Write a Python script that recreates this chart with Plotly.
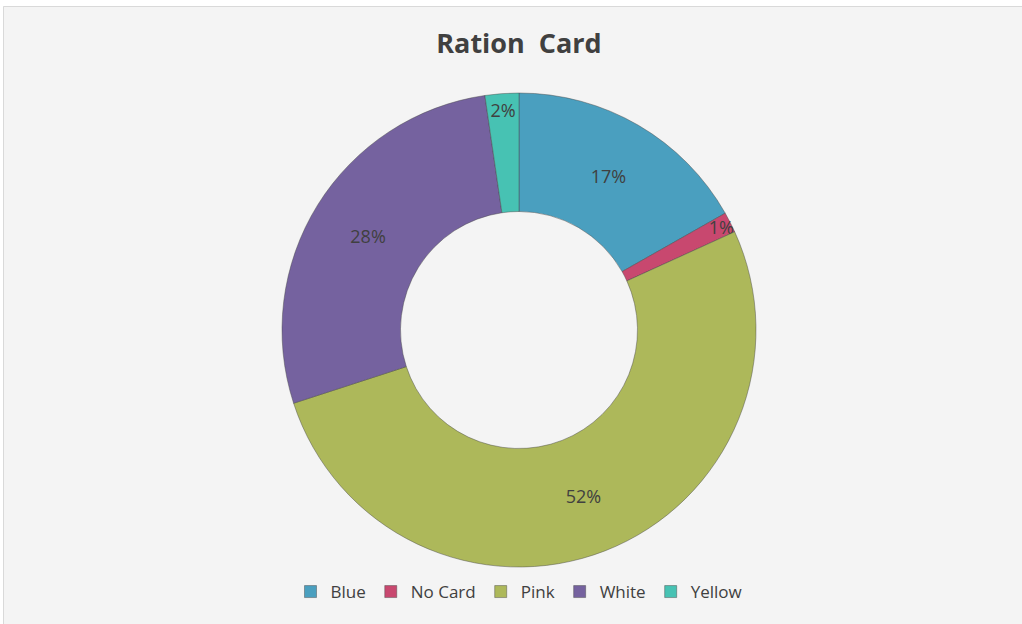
import plotly.graph_objects as go

labels = ["Blue", "No Card", "Pink", "White", "Yellow"]
shares = [16.8, 1.4, 51.8, 27.7, 2.3]
colors = ["#4A9FBF", "#C8486F", "#ADB85A", "#75629F", "#47C2B3"]

W, H = 1022, 624
cx, cy, r = 519, 330, 237

fig = go.Figure(go.Pie(
    labels=labels,
    values=shares,
    hole=0.5,
    sort=False,
    direction="clockwise",
    rotation=0,
    marker=dict(colors=colors, line=dict(color="rgba(70,70,70,0.45)", width=1)),
    texttemplate="%{percent:.0%}",
    textposition="inside",
    insidetextorientation="horizontal",
    textfont=dict(family="Open Sans, sans-serif", size=18, color="#404040"),
    domain=dict(x=[(cx - r) / W, (cx + r) / W], y=[(H - cy - r) / H, (H - cy + r) / H]),
    showlegend=True,
))

fig.update_layout(
    width=W, height=H,
    margin=dict(l=0, r=0, t=0, b=0),
    paper_bgcolor="#F4F4F4",
    plot_bgcolor="#F4F4F4",
    title=dict(text="<b>Ration  Card</b>", x=cx / W, xanchor="center", y=1 - 44 / H, yanchor="middle",
               font=dict(family="Open Sans, sans-serif", size=27, color="#404040")),
    legend=dict(orientation="h", x=cx / W, xanchor="center", y=1 - 592 / H, yanchor="middle",
                font=dict(family="Open Sans, sans-serif", size=17, color="#404040"),
                itemwidth=30, traceorder="normal", bgcolor="rgba(0,0,0,0)"),
    uniformtext=dict(mode="show", minsize=18),
    shapes=[
        # white outer margin + thin frame like the Excel chart area
        dict(type="rect", xref="paper", yref="paper", x0=0, x1=1, y0=1 - 6 / H, y1=1,
             fillcolor="white", line=dict(width=0)),
        dict(type="rect", xref="paper", yref="paper", x0=0, x1=3 / W, y0=0, y1=1,
             fillcolor="white", line=dict(width=0)),
        dict(type="rect", xref="paper", yref="paper", x0=3.5 / W, x1=1.01, y0=-0.01, y1=1 - 6.5 / H,
             fillcolor="rgba(0,0,0,0)", line=dict(color="#D9D9D9", width=1)),
    ],
)

# the page's default 8px body margin would shift the figure
fig.write_html("out.html", config={"displayModeBar": False},
               post_script="document.body.style.margin='0';")
